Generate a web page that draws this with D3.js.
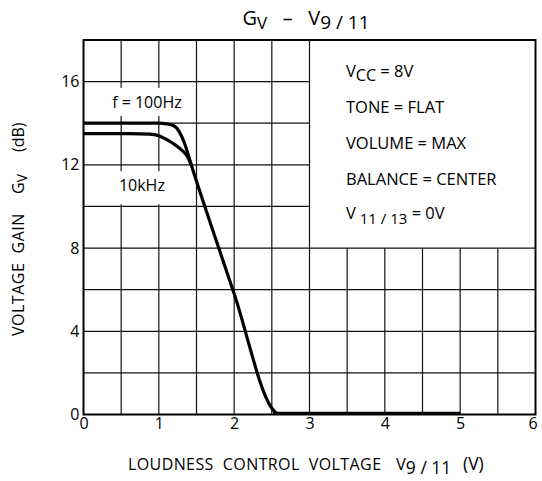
<!DOCTYPE html>
<html lang="en">
<head>
<meta charset="UTF-8">
<title>Gv - V9/11</title>
<style>
body { margin: 0; background: #fff; }
text { font-family: "Open Sans", "Noto Sans", sans-serif; fill: #000; white-space: pre; }
.grid line { stroke: #111; stroke-width: 1.2px; }
.curve { fill: none; stroke: #000; stroke-width: 3.2px; stroke-linejoin: round; }
</style>
</head>
<body>
<svg id="main" width="542" height="481"></svg>
<script src="https://cdn.jsdelivr.net/npm/d3@7/dist/d3.min.js"></script>
<script>
// data
var xTicks = [0, 1, 2, 3, 4, 5, 6];
var yTicks = [0, 4, 8, 12, 16];
var v100 = [0, 0.6, 1.0, 1.1, 1.2, 1.27, 1.34, 1.43, 1.8, 2.0, 2.5, 2.56];
var g100 = [14, 14, 14, 13.97, 13.88, 13.6, 13.05, 12.0, 7.95, 5.8, 0.3, 0.05];
var v10k = [0, 0.6, 0.88, 1.0, 1.1, 1.2, 1.3, 1.37, 1.43];
var g10k = [13.5, 13.5, 13.48, 13.4, 13.22, 13.0, 12.72, 12.45, 12.0];
var vFlat = [2.52, 5.0];
var gFlat = [0.05, 0.05];
var notes = ["TONE = FLAT", "VOLUME = MAX", "BALANCE = CENTER"];

var svg = d3.select("#main");
var x = d3.scaleLinear().domain([0, 6]).range([83.5, 535.5]);
var y = d3.scaleLinear().domain([0, 18]).range([414.5, 40]);

// grid, hidden inside the condition box (x>=3, y>=8)
var g = svg.append("g").attr("class", "grid");
d3.range(0.5, 6, 0.5).forEach(function(v) {
    g.append("line")
        .attr("x1", x(v)).attr("x2", x(v))
        .attr("y1", y(0)).attr("y2", v > 3 ? y(8) : y(18));
});
d3.range(2, 18, 2).forEach(function(v) {
    g.append("line")
        .attr("x1", x(0)).attr("x2", v > 8 ? x(3) : x(6))
        .attr("y1", y(v)).attr("y2", y(v));
});

// white patches behind curve labels
svg.append("rect").attr("x", x(0.33)).attr("y", y(15.7)).attr("width", x(1.45) - x(0.33)).attr("height", y(14.35) - y(15.7)).attr("fill", "#fff");
svg.append("rect").attr("x", x(0.4)).attr("y", y(11.7)).attr("width", x(1.33) - x(0.4)).attr("height", y(10.1) - y(11.7)).attr("fill", "#fff");

// frame
svg.append("rect")
    .attr("x", x(0)).attr("y", y(18))
    .attr("width", x(6) - x(0)).attr("height", y(0) - y(18))
    .attr("fill", "none").attr("stroke", "#000").attr("stroke-width", 2);

// axes
var xAxis = d3.axisBottom(x).tickValues(xTicks).tickFormat(d3.format("d")).tickSize(0).tickPadding(3);
var yAxis = d3.axisLeft(y).tickValues(yTicks).tickFormat(d3.format("d")).tickSize(0).tickPadding(4);
var ax = svg.append("g").attr("transform", "translate(0," + y(0) + ")").call(xAxis);
var ay = svg.append("g").attr("transform", "translate(" + x(0) + ",0)").call(yAxis);
[ax, ay].forEach(function(a) {
    a.select(".domain").remove();
    a.selectAll("text").style("font-size", "16px").style("font-family", "'Open Sans', sans-serif");
});
ax.selectAll("text").filter(function(d) { return d === 6; }).attr("dx", -3);

// curves
var line = d3.line().x(function(d) { return x(d[0]); }).y(function(d) { return y(d[1]); }).curve(d3.curveMonotoneX);
svg.append("path").attr("class", "curve").attr("d", line(d3.zip(v100, g100)));
svg.append("path").attr("class", "curve").attr("d", line(d3.zip(v10k, g10k)));
svg.append("path").attr("class", "curve").attr("stroke-width", 3.5).attr("d", line(d3.zip(vFlat, gFlat)));

// curve labels
svg.append("text").attr("x", x(0.38)).attr("y", y(14.75)).style("font-size", "16px").text("f = 100Hz");
svg.append("text").attr("x", x(0.47)).attr("y", y(10.75)).style("font-size", "16px").text("10kHz");

// condition notes
var nx = 346;
var t1 = svg.append("text").attr("x", nx).attr("y", 77).style("font-size", "16.5px");
t1.append("tspan").text("V");
t1.append("tspan").attr("dy", 4).style("font-size", "16px").text("CC");
t1.append("tspan").attr("dy", -4).text(" = 8V");
notes.forEach(function(n, i) {
    svg.append("text").attr("x", nx).attr("y", 113 + i * 36).style("font-size", "16.5px").text(n);
});
var t5 = svg.append("text").attr("x", nx).attr("y", 219).style("font-size", "16.5px");
t5.append("tspan").text("V");
t5.append("tspan").attr("dy", 5).style("font-size", "15px").text(" 11 / 13");
t5.append("tspan").attr("dy", -5).text(" = 0V");

// title
var tt = svg.append("text").attr("x", 306).attr("y", 25).attr("text-anchor", "middle").style("font-size", "20px");
tt.append("tspan").text("G");
tt.append("tspan").attr("dy", 4).style("font-size", "17px").text("V");
tt.append("tspan").attr("dy", -4).text("   –   V");
tt.append("tspan").attr("dy", 4).style("font-size", "19px").text("9 / 11");

// x label
svg.append("text").attr("x", 128).attr("y", 470).style("font-size", "16px").style("letter-spacing", "0.4px").text("LOUDNESS  CONTROL  VOLTAGE");
var xl = svg.append("text").attr("x", 396).attr("y", 470).style("font-size", "16.5px");
xl.append("tspan").text("V");
xl.append("tspan").attr("dy", 4).style("font-size", "17.5px").text("9 / 11");
svg.append("text").attr("x", 463).attr("y", 470).style("font-size", "17.5px").text("(V)");

// y label
var ylab = svg.append("g").attr("transform", "translate(24,0) rotate(-90)");
ylab.append("text").attr("x", -336).style("font-size", "16px").style("letter-spacing", "0.5px").text("VOLTAGE  GAIN");
var yg = ylab.append("text").attr("x", -194).style("font-size", "16px");
yg.append("tspan").text("G");
yg.append("tspan").attr("dy", 3).style("font-size", "14px").text("V");
ylab.append("text").attr("x", -152).style("font-size", "16px").text("(dB)");
</script>
</body>
</html>
